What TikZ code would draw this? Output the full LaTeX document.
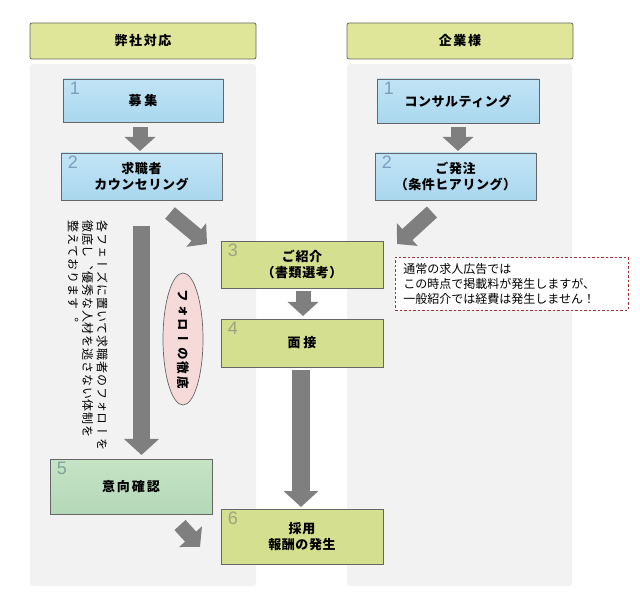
\documentclass[tikz,border=0pt]{standalone}
\usepackage{fontspec}
\setmainfont{Noto Sans CJK JP}
\newfontfamily\numfont{Liberation Sans}
\newfontfamily\vfont[Vertical=RotatedGlyphs]{Noto Sans CJK JP}
\usetikzlibrary{arrows.meta,shapes.geometric,calc}
\definecolor{hdrfill}{HTML}{DFE69A}
\definecolor{colgray}{HTML}{F2F2F2}
\definecolor{bordergray}{HTML}{666666}
\definecolor{arrowgray}{HTML}{7F7F7F}
\definecolor{bluetop}{HTML}{C2E4F5}
\definecolor{bluebot}{HTML}{A9D7EE}
\definecolor{greenfill}{HTML}{D4DF8F}
\definecolor{mintop}{HTML}{C6E3C6}
\definecolor{minbot}{HTML}{B4D8B8}
\definecolor{numblue}{HTML}{7B9DBF}
\definecolor{numgreen}{HTML}{9EA57E}
\definecolor{nummint}{HTML}{7FA39A}
\definecolor{pinkfill}{HTML}{F6DADA}
\definecolor{notered}{HTML}{A83232}
\begin{document}
\begin{tikzpicture}[x=1pt,y=-1pt,
  hdr/.style={draw=bordergray, fill=hdrfill, rounded corners=2pt, line width=0.8pt,
    minimum width=226pt, minimum height=36pt, inner sep=0pt,
    font=\fontsize{13}{15}\selectfont\addfontfeature{LetterSpace=12}\bfseries},
  col/.style={fill=colgray, rounded corners=3pt, draw=none},
  stepbox/.style={draw=bordergray, line width=0.8pt, inner sep=0pt, align=center,
    font=\fontsize{13}{16}\selectfont\addfontfeature{LetterSpace=4}\bfseries},
  bluebox/.style={stepbox, top color=bluetop, bottom color=bluebot},
  greenbox/.style={stepbox, fill=greenfill},
  mintbox/.style={stepbox, top color=mintop, bottom color=minbot},
  num/.style={anchor=north west, inner sep=0pt, font=\numfont\fontsize{18}{18}\selectfont},
  barrow/.style={draw=arrowgray, line width=15pt, -{Triangle[width=30pt,length=14pt]}},
  bigarrow/.style={draw=arrowgray, line width=17.5pt, -{Triangle[width=34pt,length=16pt]}},
  notebox/.style={draw=notered, dashed, dash pattern=on 2.5pt off 2pt, fill=white, line width=0.8pt,
    align=left, inner xsep=8pt, inner ysep=0pt, text width=217pt, minimum height=53pt,
    font=\fontsize{12}{15}\selectfont},
]
\useasboundingbox (0,0) rectangle (640,601);
\fill[white] (0,0) rectangle (640,601);
% columns
\fill[col] (30,64) rectangle (256,586);
\fill[col] (347,64) rectangle (572,586);
% headers
\node[hdr] (hL) at (143,41) {弊社対応};
\node[hdr] (hR) at (460,41) {企業様};
% left boxes
\node[bluebox, minimum width=160pt, minimum height=43pt] (b1L) at (143,100.5) {募\hspace{3pt}集};
\node[bluebox, minimum width=161pt, minimum height=47pt] (b2L) at (141.5,176.5) {求職者\\カウンセリング};
% right boxes
\node[bluebox, minimum width=162pt, minimum height=44pt] (b1R) at (458,101) {コンサルティング};
\node[bluebox, minimum width=161pt, minimum height=47pt] (b2R) at (455.5,176.5) {ご発注\\（条件ヒアリング）};
% middle boxes
\node[greenbox, minimum width=162pt, minimum height=47pt] (b3) at (302,264.5) {ご紹介\\（書類選考）};
\node[greenbox, minimum width=162pt, minimum height=48pt] (b4) at (302,343) {面\hspace{3pt}接};
\node[mintbox, minimum width=162pt, minimum height=55pt] (b5) at (131,486.5) {意\hspace{2pt}向\hspace{2pt}確\hspace{2pt}認};
\node[greenbox, minimum width=162pt, minimum height=55pt] (b6) at (302,536.5) {採用\\報酬の発生};
% numbers
\node[num, text=numblue] (n1L) at ($(b1L.north west)+(7,3)$) {1};
\node[num, text=numblue] (n2L) at ($(b2L.north west)+(7,3)$) {2};
\node[num, text=numblue] (n1R) at ($(b1R.north west)+(7,3)$) {1};
\node[num, text=numblue] (n2R) at ($(b2R.north west)+(7,3)$) {2};
\node[num, text=numgreen] (n3) at ($(b3.north west)+(7,3)$) {3};
\node[num, text=numgreen] (n4) at ($(b4.north west)+(7,3)$) {4};
\node[num, text=nummint] (n5) at ($(b5.north west)+(7,3)$) {5};
\node[num, text=numgreen] (n6) at ($(b6.north west)+(7,3)$) {6};
% arrow end points
\coordinate (a1s) at (140,127);   \coordinate (a1e) at (140,151);
\coordinate (a2s) at (458,127);   \coordinate (a2e) at (458,151);
\coordinate (a3s) at (170,213);   \coordinate (a3e) at (207,244);
\coordinate (a4s) at (432,212);   \coordinate (a4e) at (397,244);
\coordinate (a5s) at (303,291);   \coordinate (a5e) at (303,316);
\coordinate (a6s) at (301,370);   \coordinate (a6e) at (301,507);
\coordinate (a7s) at (141.5,226); \coordinate (a7e) at (141.5,455);
\coordinate (a8s) at (180,525);   \coordinate (a8e) at (200,547);
\draw[barrow] (a1s) -- (a1e);
\draw[barrow] (a2s) -- (a2e);
\draw[barrow] (a3s) -- (a3e);
\draw[barrow] (a4s) -- (a4e);
\draw[barrow] (a5s) -- (a5e);
\draw[bigarrow] (a6s) -- (a6e);
\draw[bigarrow] (a7s) -- (a7e);
\draw[barrow] (a8s) -- (a8e);
% ellipse
\node[ellipse, draw=bordergray, fill=pinkfill, line width=0.7pt, minimum width=40pt, minimum height=132pt, inner sep=0pt] (ell) at (183,339) {};
\node[rotate=-90, inner sep=0pt, font=\vfont\fontsize{12.5}{14}\selectfont\addfontfeature{LetterSpace=16}\bfseries] (elltxt) at (ell.center) {フォローの徹底};
% vertical text
\node[rotate=-90, anchor=north west, inner sep=0pt, align=left,
  font=\vfont\fontsize{12}{14.5}\selectfont\addfontfeature{LetterSpace=7}] (vtxt) at (108,220)
  {各フェーズに置いて求職者のフォローを\\徹底し、優秀な人材を逃さない体制を\\整えております。};
% note
\node[notebox, anchor=north west, minimum width=233pt] (note) at (395,257)
  {通常の求人広告では\\この時点で掲載料が発生しますが、\\一般紹介では経費は発生しません！};
\end{tikzpicture}
\end{document}
